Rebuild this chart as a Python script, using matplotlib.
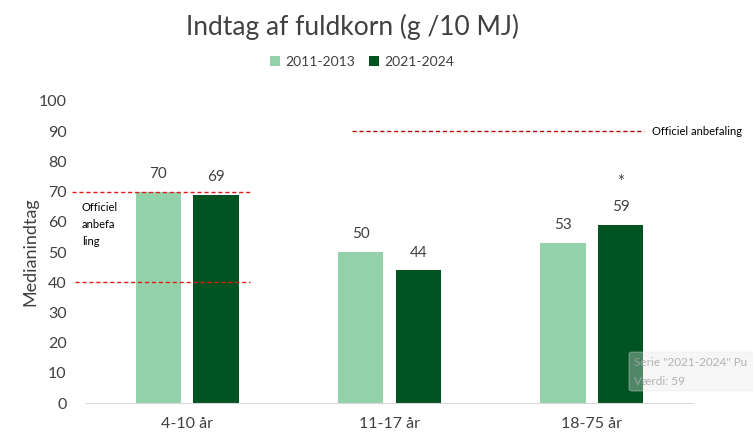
import matplotlib
matplotlib.use("Agg")
import matplotlib.pyplot as plt
import numpy as np
from matplotlib.patches import FancyBboxPatch

# data
groups = ["4-10 år", "11-17 år", "18-75 år"]
series_names = ["2011-2013", "2021-2024"]
vals_2011 = [70, 50, 53]
vals_2021 = [69, 44, 59]
stars_2021 = ["", "", "*"]

light = "#93D1AA"
dark = "#005421"
txt = "#404040"

plt.rcParams["font.family"] = ["Lato", "DejaVu Sans"]

fig = plt.figure(figsize=(7.53, 4.40), dpi=100)
ax = fig.add_axes([86 / 753, 37 / 440, 607 / 753, 302 / 440])

x = np.arange(len(groups))
off = 0.285
w = 0.223
b1 = ax.bar(x - off / 2, vals_2011, w, color=light, label=series_names[0])
b2 = ax.bar(x + off / 2, vals_2021, w, color=dark, label=series_names[1])

for bars in (b1, b2):
    for r in bars:
        ax.text(r.get_x() + r.get_width() / 2, r.get_height() + 3.5, f"{r.get_height():.0f}",
                ha="center", va="bottom", fontsize=11, color=txt)
for r, s in zip(b2, stars_2021):
    if s:
        ax.text(r.get_x() + r.get_width() / 2, r.get_height() + 11.5, s,
                ha="center", va="bottom", fontsize=12, color=txt)

ax.set_xlim(-0.5, 2.5)
ax.set_ylim(0, 100)
ax.set_yticks(range(0, 101, 10))
ax.set_xticks(x)
ax.set_xticklabels(groups)
ax.tick_params(axis="both", length=0, labelsize=11.5, labelcolor=txt)
ax.tick_params(axis="y", pad=14)
ax.tick_params(axis="x", pad=10)
for sp in ["top", "right", "left"]:
    ax.spines[sp].set_visible(False)
ax.spines["bottom"].set_color("#d9d9d9")
ax.set_ylabel("Medianindtag", fontsize=13, color=txt, labelpad=0)

# recommendation lines
ax.plot([-0.57, 0.31], [70, 70], ls=(0, (3, 2)), color="#e31a1c", lw=1, clip_on=False)
ax.plot([-0.555, 0.31], [40, 40], ls=(0, (3, 2)), color="#e31a1c", lw=1, clip_on=False)
ax.text(-0.52, 66.5, "Officiel\nanbefa\nling", fontsize=8, color="black", va="top", ha="left",
        linespacing=1.65)
ax.plot([0.817, 2.257], [90, 90], ls=(0, (3, 2)), color="#c00000", lw=1, clip_on=False)
ax.text(2.297, 90, "Officiel anbefaling", fontsize=8, color="black", va="center", ha="left",
        clip_on=False)

fig.text(353 / 753, 1 - 27 / 440, "Indtag af fuldkorn (g /10 MJ)", ha="center", va="center",
         fontsize=19, color=txt)
fig.legend(handles=[b1, b2], labels=series_names, loc="center", bbox_to_anchor=(362 / 753, 1 - 62 / 440),
           ncol=2, frameon=False, fontsize=10, handlelength=0.7, handleheight=0.7,
           handletextpad=0.4, columnspacing=1.0, labelcolor=txt)

# tooltip overlay seen in the screenshot
box = FancyBboxPatch((629 / 753, 1 - 391 / 440), 140 / 753, 39 / 440,
                     boxstyle="round,pad=0,rounding_size=0.005", transform=fig.transFigure,
                     facecolor="#e8e8e8", edgecolor="#e6e6e6", alpha=0.35, lw=0.8,
                     clip_on=False, zorder=5)
fig.patches.append(box)
fig.text(634 / 753, 1 - 362 / 440, 'Serie "2021-2024" Pu', fontsize=8.5, color="#a6a6a6",
         alpha=0.85, va="center", zorder=6)
fig.text(634 / 753, 1 - 381 / 440, "Værdi: 59", fontsize=8.5, color="#a6a6a6",
         alpha=0.85, va="center", zorder=6)

fig.savefig("out.png", dpi=100)
